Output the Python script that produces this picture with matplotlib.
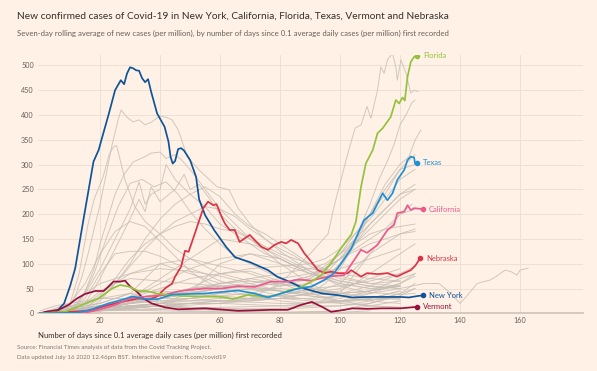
import matplotlib
matplotlib.use("Agg")
import matplotlib.pyplot as plt

plt.rcParams['font.family'] = ['Lato', 'DejaVu Sans']

# highlighted states: days since threshold, 7-day avg new cases per million
ny_days = [0, 5, 6, 8, 10, 11.7, 14.5, 17.8, 19.5, 20.6, 22.8, 25, 26.9, 28, 29, 30, 31, 32, 33, 34, 35, 36, 37, 39,
           41.5, 42.8, 43.5, 44.2, 45, 46, 47, 48, 50, 52, 53, 55, 58, 62, 65, 70, 76, 79, 83, 88, 94, 100, 104, 110,
           120, 123, 126, 127.5]
ny_vals = [0, 2, 7, 20, 55, 91, 191, 306, 329, 353, 400, 450, 470, 462, 484, 496, 494, 490, 489, 474, 466, 472, 447, 403,
           376, 346, 315, 302, 307, 331, 333, 328, 309, 275, 230, 198, 168, 134, 113, 103, 87, 74, 64, 50, 40, 36, 32, 33,
           33, 32, 35, 36]

fl_days = [0, 8.4, 14, 19.5, 24, 26.7, 29.5, 32.8, 35.5, 38.9, 41.6, 47, 55, 60.5, 64.3, 69.3, 76, 80.4, 83.2, 86, 90.4,
           93.7, 97, 100.3, 102.6, 103.7, 105.3, 107, 108.6, 110.9, 112.5, 114.2, 116.9, 118.6, 119.7, 120.8, 121.6, 122.5,
           123.6, 124.7, 125.6]
fl_vals = [0, 3, 17, 30, 50, 57, 54, 45, 45, 40, 38, 35, 34, 33, 29, 37, 33, 40, 47, 50, 64,
           77, 101, 131, 150, 158, 185, 255, 302, 329, 363, 373, 396, 430, 423, 435, 429, 477,
           507, 517, 519]

tx_days = [0, 12, 16.7, 22.8, 28.3, 30.6, 35, 39, 44, 55, 66, 71.5, 76, 80.4, 86, 90.4, 94.8, 98, 100.9, 103.7, 105.5,
           108, 110.9, 114.2, 115.8, 117.5, 119.1, 121.4, 122.5, 123.6, 124.7, 125, 125.6]
tx_vals = [0, 1, 7, 20, 29, 34, 29, 28, 38, 40, 46, 40, 32, 40, 50, 54, 67, 81, 105, 130, 154,
           188, 202, 242, 228, 242, 269, 289, 309, 316, 314, 302, 304]

ca_days = [0, 15, 20, 25, 30.6, 35.5, 41.6, 46, 49.4, 55, 60.5, 66, 71.5, 77, 82.6, 86, 90.4, 96, 101.4, 103, 105, 107,
           109, 112.5, 115.8, 118, 119.1, 121.4, 122.5, 123.6, 124.7, 127.5]
ca_vals = [0, 1, 8, 17, 31, 34, 37, 44, 47, 50, 50, 55, 53, 64, 64, 68, 66, 74, 77, 92, 110, 128,
           122, 138, 168, 178, 202, 205, 218, 208, 212, 210]

ne_days = [0, 16, 21.7, 27.2, 32.8, 36.5, 39, 41.6, 44, 45, 47, 48.3, 49.5, 51.6, 54.4, 56, 57.7, 58.8, 60.5, 61.6, 63.2,
           64.9, 66.5, 68.2, 69.9, 71.5, 73.8, 76, 78.2, 80.4, 82, 83.7, 86, 88.1, 90.4, 92.6, 94.8, 97, 99.2, 102.6,
           103.7, 107, 109, 112.5, 115.8, 119, 121.4, 123.6, 125.2, 126.7]
ne_vals = [0, 5, 15, 23, 30, 28, 34, 50, 60, 74, 94, 126, 124, 161, 212, 225, 218, 220, 195, 181, 168,
           168, 144, 151, 158, 148, 134, 128, 138, 144, 141, 148, 141, 121, 104, 87, 81, 84, 81, 81,
           87, 74, 81, 79, 81, 74, 81, 87, 97, 111]

vt_days = [0, 1.8, 6.2, 9.5, 12.3, 15, 18.4, 21.2, 22.8, 24.5, 26.7, 28.3, 30, 32.2, 34.4, 37.2, 41.6, 46, 55, 66, 77,
           82.6, 87, 90.6, 92.6, 94, 97, 101.4, 104, 109, 114, 120, 125.6]
vt_vals = [0, 3, 7, 17, 30, 39, 45, 45, 54, 64, 64, 66, 54, 44, 30, 20, 12, 8, 10, 5, 7,
           7, 17, 23, 17, 13, 3, 7, 10, 9, 10, 10, 13]

highlights = [
    ("New York", ny_days, ny_vals, "#0F5499"),
    ("Vermont", vt_days, vt_vals, "#990F3D"),
    ("Nebraska", ne_days, ne_vals, "#DD3346"),
    ("California", ca_days, ca_vals, "#EE5A8E"),
    ("Florida", fl_days, fl_vals, "#94C23D"),
    ("Texas", tx_days, tx_vals, "#2090D6"),
]

# other states (grey background lines)
grey_lines = [
    ([0, 5, 8, 10, 12, 14, 16, 18, 20, 22, 24, 26, 27, 29, 31, 33, 35, 37, 40, 42, 44, 46, 47, 49, 53, 56, 59, 63, 66, 70,
      75, 80, 85, 90, 95, 100, 105, 110, 115, 120, 125],
     [0, 2, 5, 15, 40, 75, 120, 170, 220, 280, 340, 390, 410, 395, 386, 390, 380, 385, 398, 395, 390, 370, 353, 316, 289,
      272, 255, 249, 212, 180, 150, 125, 105, 85, 70, 55, 48, 42, 40, 38, 40]),
    ([0, 5, 10, 13, 16, 18, 21, 23, 24.5, 25.5, 26.7, 28.3, 29.5, 31.6, 35, 40, 45, 50, 55, 60, 70, 80, 90, 95, 100, 105,
      110, 115, 120, 125],
     [0, 2, 20, 80, 180, 230, 275, 320, 336, 338, 309, 269, 249, 215, 185, 160, 130, 110, 95, 80, 65, 55, 60, 80, 110,
      150, 200, 250, 290, 300]),
    ([0, 8, 12, 15, 18, 20, 23, 25, 28, 31, 35, 37, 40, 42, 45, 47, 50, 55, 60, 65, 70, 75, 80, 85, 90, 95, 100, 105, 110,
      115, 120],
     [0, 3, 15, 45, 90, 140, 200, 240, 280, 305, 316, 323, 325, 312, 320, 310, 290, 250, 210, 180, 150, 125, 100, 80, 60,
      45, 35, 30, 25, 22, 20]),
    ([0, 10, 14, 18, 22, 26, 30, 34, 38, 42, 46, 50, 55, 60, 65, 70, 80, 90, 100, 110, 120],
     [0, 5, 30, 80, 150, 215, 262, 270, 255, 265, 240, 205, 170, 140, 115, 100, 70, 50, 40, 32, 28]),
    ([0, 15, 20, 25, 30, 33, 35, 37, 40, 43, 45, 48, 50, 53, 56, 60, 65, 70, 75, 80, 90, 100, 110, 120],
     [0, 20, 70, 130, 190, 230, 205, 255, 225, 240, 250, 280, 250, 260, 235, 200, 170, 150, 130, 115, 85, 65, 55, 50]),
    ([0, 15, 20, 25, 30, 35, 40, 45, 50, 55, 60, 65, 70, 75, 80, 85, 90, 95, 100, 110, 120],
     [0, 5, 25, 60, 100, 150, 190, 220, 240, 255, 235, 200, 175, 160, 140, 120, 100, 85, 75, 60, 55]),
    ([0, 5, 10, 15, 20, 25, 30, 35, 40, 45, 50, 55, 60, 70, 80, 90, 100, 110, 120],
     [0, 5, 20, 60, 120, 165, 185, 175, 145, 115, 85, 65, 50, 35, 25, 20, 22, 28, 32]),
    ([0, 10, 15, 20, 25, 30, 33, 35, 37, 40, 42, 45, 50, 55, 60, 65, 70, 75, 80, 90, 100, 110, 120],
     [0, 10, 40, 90, 150, 210, 265, 220, 240, 250, 300, 270, 240, 215, 180, 160, 140, 130, 110, 80, 65, 55, 50]),
    ([0, 15, 20, 25, 30, 35, 40, 45, 50, 55, 60, 65, 70, 75, 80, 85, 90, 95, 100, 110, 120],
     [0, 10, 30, 60, 95, 130, 160, 185, 200, 215, 210, 195, 170, 150, 130, 115, 95, 80, 70, 60, 65]),
    ([0, 15, 20, 25, 30, 35, 40, 45, 50, 55, 60, 65, 70, 75, 80, 85, 90, 100, 110, 120],
     [0, 10, 35, 70, 110, 140, 160, 175, 185, 180, 170, 165, 150, 135, 120, 110, 100, 80, 70, 65]),
    ([0, 10, 15, 20, 25, 30, 35, 40, 45, 50, 55, 60, 70, 80, 90, 100, 110, 120],
     [0, 5, 30, 80, 120, 125, 125, 115, 100, 90, 80, 65, 50, 35, 28, 25, 28, 30]),
    ([0, 20, 30, 40, 50, 55, 60, 65, 70, 75, 80, 85, 90, 95, 100, 105, 110, 115, 120],
     [0, 10, 30, 70, 110, 130, 150, 145, 140, 120, 110, 95, 90, 85, 90, 100, 110, 120, 130]),
    ([0, 20, 30, 35, 40, 45, 50, 55, 60, 70, 80, 90, 100, 110, 120],
     [0, 20, 40, 70, 100, 90, 80, 70, 60, 65, 60, 50, 40, 45, 55]),
    ([0, 20, 30, 40, 50, 60, 70, 80, 90, 95, 100, 105, 110, 115, 120, 125],
     [0, 15, 30, 50, 70, 80, 90, 95, 100, 110, 130, 160, 190, 230, 270, 290]),
    ([0, 20, 30, 40, 50, 60, 70, 80, 90, 95, 100, 105, 110, 115, 120, 125],
     [0, 8, 20, 35, 50, 60, 70, 80, 90, 100, 120, 150, 180, 210, 240, 260]),
    ([0, 15, 20, 25, 30, 40, 50, 60, 70, 80, 90, 95, 100, 105, 110, 115, 120, 125],
     [0, 20, 45, 60, 70, 65, 60, 55, 55, 60, 70, 90, 120, 160, 200, 240, 290, 320]),
    ([0, 20, 30, 40, 50, 60, 70, 80, 90, 95, 100, 105, 110, 115, 120, 125],
     [0, 15, 25, 35, 50, 55, 60, 70, 80, 90, 110, 140, 170, 200, 230, 250]),
    ([0, 20, 30, 40, 50, 60, 70, 80, 90, 95, 100, 105, 110, 115, 120, 125],
     [0, 20, 40, 45, 40, 35, 30, 35, 50, 70, 100, 140, 180, 210, 240, 250]),
    ([0, 20, 30, 40, 50, 60, 70, 80, 90, 95, 100, 105, 110, 115, 120, 125],
     [0, 10, 20, 30, 40, 50, 55, 60, 75, 95, 120, 140, 160, 170, 175, 180]),
    ([0, 20, 30, 40, 50, 60, 70, 80, 90, 95, 100, 105, 110, 115, 120, 125],
     [0, 10, 20, 25, 30, 35, 40, 55, 70, 90, 110, 130, 150, 170, 200, 210]),
    ([0, 20, 30, 40, 50, 60, 70, 80, 90, 100, 105, 110, 115, 120, 125],
     [0, 5, 10, 15, 20, 20, 25, 30, 40, 60, 90, 120, 140, 160, 170]),
    ([0, 20, 30, 40, 50, 60, 70, 80, 90, 100, 105, 110, 115, 120, 124],
     [0, 30, 40, 20, 10, 8, 8, 10, 15, 40, 80, 120, 160, 200, 220]),
    ([0, 20, 30, 40, 50, 60, 70, 80, 90, 95, 100, 105, 110, 115, 120, 125],
     [0, 15, 25, 30, 40, 50, 55, 60, 75, 90, 110, 125, 140, 150, 160, 165]),
    ([0, 20, 40, 60, 80, 90, 100, 105, 110, 115, 120, 125],
     [0, 10, 30, 50, 45, 40, 45, 60, 80, 100, 120, 140]),
    ([0, 20, 40, 60, 80, 90, 100, 110, 120, 125],
     [0, 15, 25, 25, 20, 20, 25, 40, 60, 80]),
    ([0, 20, 40, 60, 70, 80, 90, 100, 110, 120, 125],
     [0, 10, 20, 40, 50, 50, 45, 40, 45, 60, 75]),
    ([0, 20, 40, 50, 60, 70, 80, 90, 100, 110, 120],
     [0, 5, 20, 40, 100, 120, 110, 80, 60, 50, 55]),
    ([0, 10, 20, 25, 30, 40, 50, 60, 70, 80, 90, 100, 110, 120, 125],
     [0, 20, 60, 70, 80, 90, 85, 75, 60, 45, 35, 30, 45, 70, 80]),
    ([0, 15, 20, 25, 30, 40, 50, 60, 70, 80, 90, 100, 110, 120],
     [0, 15, 40, 60, 80, 100, 110, 95, 80, 60, 50, 40, 45, 55]),
    ([0, 20, 30, 40, 50, 60, 70, 80, 90, 100, 110, 120],
     [0, 10, 30, 60, 90, 110, 120, 100, 80, 60, 50, 55]),
    ([0, 20, 40, 60, 80, 100, 110, 120, 125],
     [0, 8, 20, 40, 35, 40, 55, 80, 95]),
    ([0, 20, 40, 60, 70, 80, 90, 100, 110, 120],
     [0, 10, 30, 60, 70, 60, 40, 25, 15, 12]),
    ([0, 20, 40, 60, 70, 80, 90, 100, 110, 120],
     [0, 15, 40, 55, 50, 45, 40, 50, 70, 90]),
    ([0, 20, 40, 50, 60, 70, 80, 90, 100, 110, 120],
     [0, 10, 35, 50, 80, 85, 65, 50, 55, 65, 80]),
    ([0, 20, 40, 60, 80, 100, 110, 120],
     [0, 5, 15, 25, 30, 20, 15, 12]),
    ([0, 20, 40, 60, 80, 100, 110, 120, 125],
     [0, 5, 10, 12, 15, 15, 20, 35, 50]),
    ([0, 20, 40, 60, 80, 100, 110, 120, 125],
     [0, 8, 15, 10, 8, 15, 25, 40, 50]),
    ([0, 20, 40, 60, 80, 90, 100, 110, 120, 125],
     [0, 12, 15, 5, 2, 2, 5, 20, 40, 60]),
    ([0, 20, 40, 60, 80, 100, 110, 120],
     [0, 5, 8, 3, 2, 5, 15, 25]),
    ([0, 20, 40, 60, 80, 90, 100, 110],
     [0, 8, 5, 2, 1, 1, 2, 5]),
    ([0, 20, 40, 60, 80, 100, 110, 120],
     [0, 10, 20, 20, 15, 25, 30, 45]),
    ([0, 20, 40, 60, 70, 80, 90, 100, 110, 120],
     [0, 15, 35, 50, 55, 45, 35, 25, 30, 45]),
    # fast riser peaking ~ 520
    ([0, 30, 45, 60, 70, 80, 85, 90, 93, 96, 98, 100, 102.5, 105, 107, 109, 110.3, 112.5, 113.6, 114.7, 115.8, 117.5,
      118.6, 119.1, 120.3, 122, 123.6, 124.7, 126],
     [0, 15, 15, 20, 30, 60, 90, 120, 140, 160, 215, 262, 320, 373, 380, 417, 393, 450, 497, 484, 511, 524,
      497, 470, 511, 484, 444, 450, 447]),
    ([0, 30, 60, 80, 90, 95, 100, 105, 110, 113, 116, 118, 120, 122, 124, 125],
     [0, 10, 25, 35, 50, 70, 100, 150, 220, 270, 310, 340, 380, 400, 425, 430]),
    ([0, 30, 60, 80, 90, 95, 100, 105, 110, 115, 120, 123, 125, 127],
     [0, 15, 30, 30, 40, 60, 90, 140, 200, 260, 300, 316, 349, 370]),
    # long-running line out to day 160+
    ([0, 5, 10, 15, 20, 30, 40, 50, 60, 70, 80, 90, 100, 110, 120, 128, 133, 137, 140, 142, 145.7, 148, 150, 152, 155,
      157, 159, 160, 162.7],
     [5, 15, 20, 25, 30, 30, 30, 30, 25, 25, 30, 30, 35, 40, 50, 60, 60, 40, 20, 33, 60, 64, 67, 74, 87,
      84, 77, 87, 91]),
]

fig = plt.figure(figsize=(5.97, 3.71), dpi=100)
fig.patch.set_facecolor("#FFF1E5")
ax = fig.add_axes([0.0637, 0.1555, 0.9128, 0.6952])
ax.set_facecolor("#FFF1E5")

for d, v in grey_lines:
    ax.plot(d, v, color="#C6BDB4", lw=0.65, alpha=0.85, zorder=2)

for name, d, v, c in highlights:
    ax.plot(d, v, color=c, lw=1.25, zorder=3, solid_joinstyle="round")
    ax.plot(d[-1], v[-1], "o", color=c, ms=3, zorder=4)
    ax.annotate(name, (d[-1], v[-1]), xytext=(4.5, 0), textcoords="offset points",
                va="center", ha="left", color=c, fontsize=5.5)

ax.set_xlim(-0.7, 181)
ax.set_ylim(0, 520)
ax.set_xticks(range(20, 161, 20))
ax.set_yticks(range(0, 501, 50))
ax.grid(True, color="#EADFD3", lw=0.6, zorder=0)
ax.set_axisbelow(True)
for s in ["left", "right", "top"]:
    ax.spines[s].set_visible(False)
ax.spines["bottom"].set_color("#CEC3B8")
ax.spines["bottom"].set_linewidth(1.2)
ax.tick_params(length=0, labelsize=5.2, labelcolor="#66605C", pad=3)

ax.set_xlabel("Number of days since 0.1 average daily cases (per million) first recorded",
              fontsize=5.6, color="#33302E", loc="left", labelpad=5)

fig.text(0.0285, 0.957, "New confirmed cases of Covid-19 in New York, California, Florida, Texas, Vermont and Nebraska",
         fontsize=7.3, color="#33302E", va="center")
fig.text(0.0285, 0.91, "Seven-day rolling average of new cases (per million), by number of days since 0.1 average daily cases (per million) first recorded",
         fontsize=5.6, color="#66605C", va="center")
fig.text(0.0285, 0.062, "Source: Financial Times analysis of data from the Covid Tracking Project.",
         fontsize=4.4, color="#807973", va="center")
fig.text(0.0285, 0.037, "Data updated July 16 2020 12.46pm BST. Interactive version: ft.com/covid19",
         fontsize=4.4, color="#807973", va="center")

fig.savefig("out.png", dpi=100, facecolor=fig.get_facecolor())
